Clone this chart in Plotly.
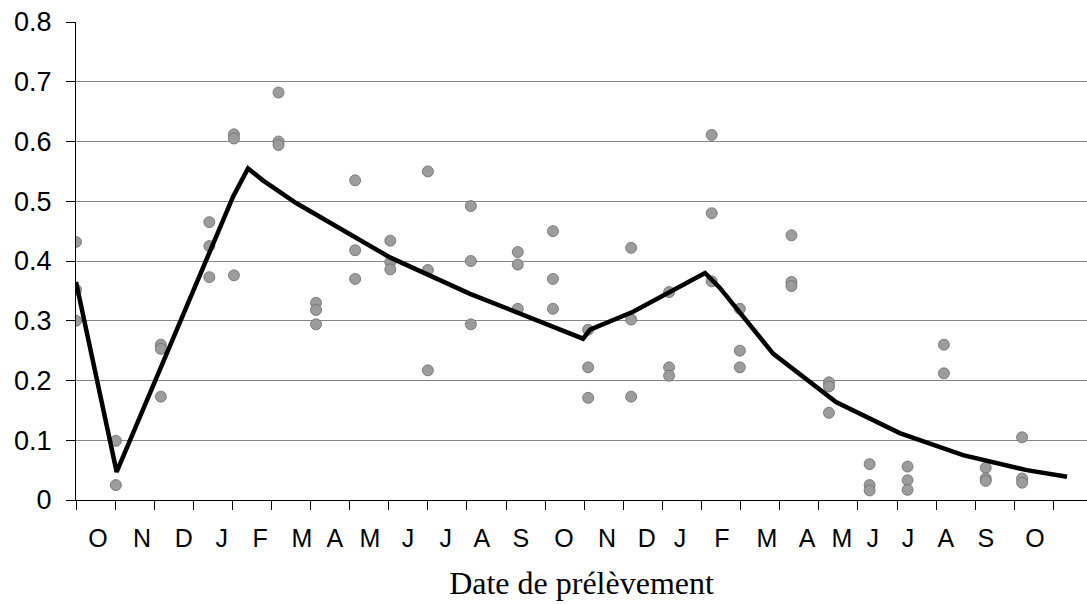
import plotly.graph_objects as go

# Month tick positions (month index from start of axis)
tick_positions = list(range(26))
month_labels = ["O", "N", "D", "J", "F", "M", "A", "M", "J", "J", "A", "S",
                "O", "N", "D", "J", "F", "M", "A", "M", "J", "J", "A", "S", "O"]
label_positions = [0.56, 1.69, 2.76, 3.73, 4.71, 5.78, 6.62, 7.52, 8.49, 9.46,
                   10.38, 11.38, 12.48, 13.58, 14.60, 15.45, 16.52, 17.67, 18.70,
                   19.59, 20.38, 21.28, 22.25, 23.27, 24.53]

# Observed samples
sample_x = [0, 0, 0,
            1.02, 1.02,
            2.17, 2.17, 2.17,
            3.41, 3.41, 3.41,
            4.04, 4.04, 4.04,
            5.18, 5.18, 5.18,
            6.14, 6.14, 6.14,
            7.14, 7.14, 7.14,
            8.04, 8.04, 8.04,
            9.00, 9.00, 9.00,
            10.10, 10.10, 10.10,
            11.30, 11.30, 11.30,
            12.20, 12.20, 12.20,
            13.10, 13.10, 13.10,
            14.20, 14.20, 14.20,
            15.17, 15.17, 15.17,
            16.26, 16.26, 16.26,
            16.98, 16.98, 16.98,
            18.30, 18.30, 18.30,
            19.26, 19.26, 19.26,
            20.30, 20.30, 20.30,
            21.27, 21.27, 21.27,
            22.20, 22.20,
            23.27, 23.27, 23.27,
            24.20, 24.20, 24.20]
sample_y = [0.432, 0.352, 0.300,
            0.099, 0.025,
            0.260, 0.253, 0.173,
            0.465, 0.425, 0.373,
            0.612, 0.605, 0.376,
            0.682, 0.600, 0.594,
            0.330, 0.318, 0.294,
            0.535, 0.418, 0.370,
            0.434, 0.398, 0.386,
            0.550, 0.385, 0.217,
            0.492, 0.400, 0.294,
            0.415, 0.394, 0.320,
            0.450, 0.370, 0.320,
            0.285, 0.222, 0.171,
            0.422, 0.302, 0.173,
            0.348, 0.222, 0.208,
            0.611, 0.480, 0.366,
            0.320, 0.250, 0.222,
            0.443, 0.365, 0.358,
            0.197, 0.190, 0.146,
            0.060, 0.025, 0.016,
            0.056, 0.033, 0.017,
            0.260, 0.212,
            0.054, 0.036, 0.032,
            0.105, 0.036, 0.029]

# Model curve
model_x = [0, 1.04, 4.02, 4.40, 4.78, 5.63, 8.03, 10.08, 12.97, 13.15, 14.25,
           16.09, 16.47, 17.83, 19.44, 21.07, 22.69, 24.32, 25.35]
model_y = [0.365, 0.047, 0.508, 0.555, 0.535, 0.497, 0.406, 0.345, 0.270, 0.285,
           0.315, 0.380, 0.355, 0.245, 0.164, 0.112, 0.075, 0.050, 0.039]

y_ticks = [0, 0.1, 0.2, 0.3, 0.4, 0.5, 0.6, 0.7, 0.8]
y_ticktext = ["0", "0.1", "0.2", "0.3", "0.4", "0.5", "0.6", "0.7", "0.8"]

fig = go.Figure()
fig.add_trace(go.Scatter(
    x=sample_x, y=sample_y, mode="markers",
    marker=dict(size=11, color="#9c9c9c", line=dict(color="#6a6a6a", width=0.8)),
    showlegend=False,
))
fig.add_trace(go.Scatter(
    x=model_x, y=model_y, mode="lines",
    line=dict(color="black", width=4.5),
    showlegend=False,
))
# invisible trace to activate the label axis
fig.add_trace(go.Scatter(x=[None], y=[None], xaxis="x2", showlegend=False))

x_range = [0, 25.86]
fig.update_layout(
    width=1087, height=604,
    margin=dict(l=76, r=0, t=22, b=104),
    paper_bgcolor="white", plot_bgcolor="white",
    font=dict(family="Liberation Sans, Arial, sans-serif", color="black"),
    xaxis=dict(
        range=x_range, tickvals=tick_positions, showticklabels=False,
        ticks="outside", ticklen=9, tickwidth=1, tickcolor="black",
        showgrid=False, zeroline=False,
        showline=True, linecolor="black", linewidth=1,
        title=dict(text="Date de prélèvement",
                   font=dict(family="Liberation Serif, Times New Roman, serif", size=32, color="black"),
                   standoff=62),
    ),
    xaxis2=dict(
        range=x_range, overlaying="x", side="bottom", anchor="y",
        tickvals=label_positions, ticktext=month_labels,
        ticks="outside", ticklen=16, tickcolor="rgba(0,0,0,0)",
        showgrid=False, zeroline=False, showline=False,
        tickfont=dict(size=25, color="black"),
    ),
    yaxis=dict(
        range=[0, 0.8], tickvals=y_ticks, ticktext=y_ticktext,
        ticks="outside", ticklen=9, tickwidth=1, tickcolor="black",
        showgrid=True, gridcolor="#858585", gridwidth=1,
        zeroline=False, showline=True, linecolor="black", linewidth=1,
        tickfont=dict(size=27, color="black"),
        ticklabelstandoff=9,
    ),
)

fig.write_html("out.html")
